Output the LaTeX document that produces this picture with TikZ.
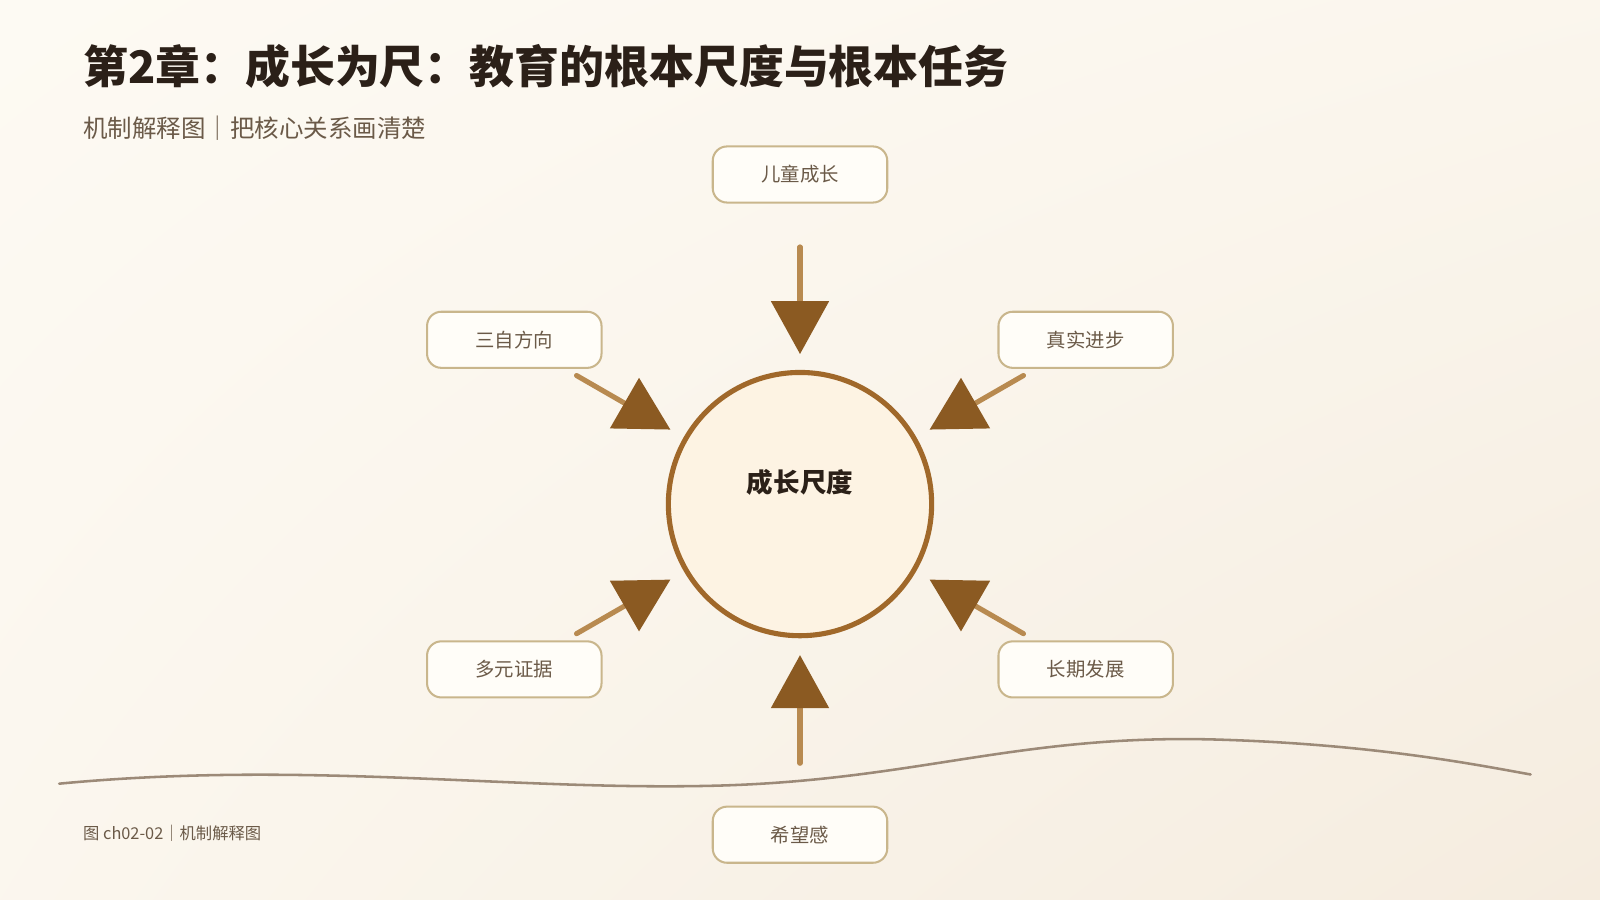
\documentclass[tikz,border=0pt]{standalone}
\usepackage{fontspec}
\setmainfont{Noto Sans CJK SC}
\usetikzlibrary{arrows.meta,shadings}
\definecolor{titlec}{HTML}{2B2018}
\definecolor{subc}{HTML}{6B5A48}
\definecolor{boxb}{HTML}{C9B68C}
\definecolor{boxf}{HTML}{FFFDF8}
\definecolor{circb}{HTML}{A0682A}
\definecolor{circf}{HTML}{FDF3E3}
\definecolor{shaftc}{HTML}{B88A50}
\definecolor{tipc}{HTML}{8B5A22}
\definecolor{wavec}{HTML}{9C8A78}
\definecolor{bga}{HTML}{FDFAF3}
\definecolor{bgb}{HTML}{F5ECDF}
\tikzset{
  lbox/.style={draw=boxb,line width=2pt,fill=boxf,rounded corners=14pt,minimum width=171pt,minimum height=55pt,text=subc,font=\fontsize{19}{22}\selectfont},
  arr/.style={draw=shaftc,line width=5pt,line cap=round,-{Triangle[length=52pt,width=56pt,color=tipc,fill=tipc]}}
}
\begin{document}
\begin{tikzpicture}[x=1pt,y=-1pt]
\shade[upper left=bga, upper right=bga!70!bgb, lower left=bga!75!bgb, lower right=bgb] (0,0) rectangle (1568,882);
\useasboundingbox (0,0) rectangle (1568,882);
\node[anchor=west,text=titlec,font=\fontsize{44}{50}\selectfont\bfseries] (title) at (78,65) {第2章：成长为尺：教育的根本尺度与根本任务};
\node[anchor=west,text=subc,font=\fontsize{24}{28}\selectfont] (sub) at (78,126) {机制解释图｜把核心关系画清楚};
\draw[wavec,line width=2.5pt,line cap=round] (58,768) .. controls (300,745) and (500,775) .. (700,770) .. controls (900,765) and (1000,718) .. (1200,725) .. controls (1350,730) and (1450,750) .. (1500,759);
\node[draw=circb,line width=5pt,fill=circf,circle,minimum size=258pt] (c) at (784,494) {};
\node[text=titlec,font=\fontsize{26}{30}\selectfont\bfseries] (ct) at (784,473) {成长尺度};
\node[lbox] (n1) at (784,171) {儿童成长};
\node[lbox] (n2) at (504,333) {三自方向};
\node[lbox] (n3) at (1064,333) {真实进步};
\node[lbox] (n4) at (504,656) {多元证据};
\node[lbox] (n5) at (1064,656) {长期发展};
\node[lbox] (n6) at (784,818) {希望感};
\coordinate (s1) at (784,242); \coordinate (e1) at (784,347);
\coordinate (s2) at (565,368); \coordinate (e2) at (657,421);
\coordinate (s3) at (1003,368); \coordinate (e3) at (911,421);
\coordinate (s4) at (565,621); \coordinate (e4) at (657,568);
\coordinate (s5) at (1003,621); \coordinate (e5) at (911,568);
\coordinate (s6) at (784,748); \coordinate (e6) at (784,642);
\foreach \i in {1,...,6}{\draw[arr] (s\i) -- (e\i);}
\node[anchor=west,text=subc,font=\fontsize{16}{19}\selectfont] (foot) at (78,817) {图 ch02-02｜机制解释图};
\end{tikzpicture}
\end{document}
